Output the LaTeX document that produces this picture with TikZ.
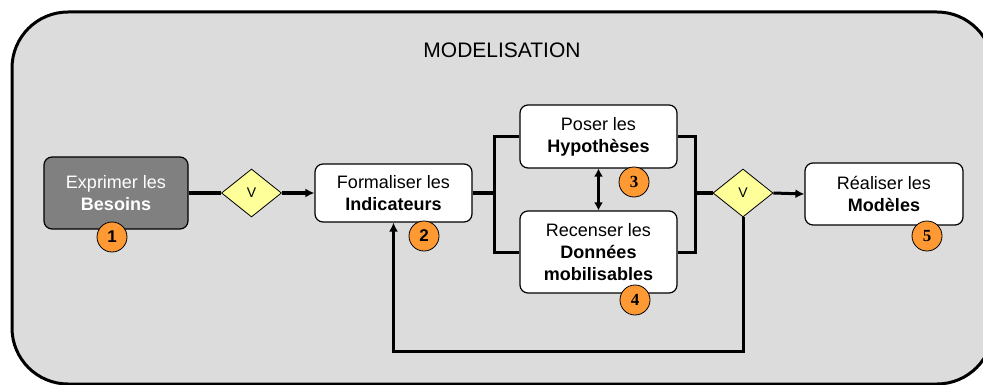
\documentclass[tikz,border=0pt]{standalone}
\usepackage{fontspec}
\setmainfont{Liberation Sans}
\newfontfamily\badgefont{Liberation Serif}
\definecolor{modgray}{RGB}{220,220,220}
\definecolor{modyellow}{RGB}{255,255,153}
\definecolor{modorange}{RGB}{255,153,51}
\definecolor{moddark}{RGB}{128,128,128}
\usetikzlibrary{
  arrows.meta,
  shapes.geometric
}

\begin{document}
\begin{tikzpicture}[x=1pt, y=-1pt,
    stepbox/.style={draw=black, line width=1.2pt, rounded corners=8pt, fill=white,
      align=center, inner sep=0pt, font=\fontsize{18}{22}\selectfont},
    gate/.style={draw=black, line width=0.8pt, fill=modyellow, diamond, aspect=1.25,
      inner sep=0pt, minimum width=60pt, minimum height=48pt, font=\fontsize{14}{16}\selectfont},
    badge/.style={circle, draw=black, line width=0.8pt, fill=modorange, inner sep=0pt,
      minimum size=30pt, font=\fontsize{17}{17}\selectfont\bfseries},
    flow/.style={line width=3pt},
    flowarrow/.style={line width=3pt, -{Latex[length=9pt,width=9pt]}}]
  \useasboundingbox (0,0) rectangle (983,385);

  % Frame
  \draw[line width=3pt, fill=modgray, rounded corners=56pt] (12,12) rectangle (993,384);
  \node[font=\fontsize{21}{21}\selectfont] (title) at (502,50) {MODELISATION};

  % Steps
  \node[stepbox, fill=moddark, text=white, minimum width=144pt, minimum height=72pt]
    (besoins) at (116,193) {Exprimer les\\\textbf{Besoins}};
  \node[stepbox, minimum width=157pt, minimum height=58pt]
    (indic) at (393.5,193) {Formaliser les\\\textbf{Indicateurs}};
  \node[stepbox, minimum width=157pt, minimum height=63pt]
    (hypo) at (598.5,136.5) {Poser les\\\textbf{Hypothèses}};
  \node[stepbox, minimum width=157pt, minimum height=82pt]
    (donnees) at (598.5,252) {Recenser les\\\textbf{Données}\\\textbf{mobilisables}};
  \node[stepbox, minimum width=158pt, minimum height=62pt]
    (modeles) at (884,194) {Réaliser les\\\textbf{Modèles}};

  % Checks
  \node[gate] (v1) at (251.5,193) {V};
  \node[gate] (v2) at (743,193) {V};

  % Joins
  \coordinate (splitL) at (494,193);
  \coordinate (splitR) at (695,193);
  \coordinate (loop) at (743,351);

  % Connectors
  \draw[flow] (besoins.east) -- (v1.west);
  \draw[flowarrow] (v1.east) -- (indic.west);
  \draw[flow] (indic.east) -- (splitL);
  \draw[flow] (hypo.west) -| (splitL) |- (donnees.west);
  \draw[flow] (hypo.east) -| (splitR) |- (donnees.east);
  \draw[flow] (splitR) -- (v2.west);
  \draw[flowarrow] (v2.east) -- (modeles.west);
  \draw[line width=3pt, {Latex[length=8pt,width=9pt]}-{Latex[length=8pt,width=9pt]}] (hypo.south) -- (donnees.north);
  \draw[flowarrow] (v2.south) -- (loop) -| (indic.south);

  % Numbers
  \node[badge] (n1) at (112,237) {1};
  \node[badge] (n2) at (424,236) {2};
  \node[badge, font=\fontsize{17}{17}\selectfont\badgefont\bfseries] (n3) at (634,182) {3};
  \node[badge, font=\fontsize{17}{17}\selectfont\badgefont\bfseries] (n4) at (635,300) {4};
  \node[badge, font=\fontsize{17}{17}\selectfont\badgefont\bfseries] (n5) at (927,236) {5};
\end{tikzpicture}
\end{document}
